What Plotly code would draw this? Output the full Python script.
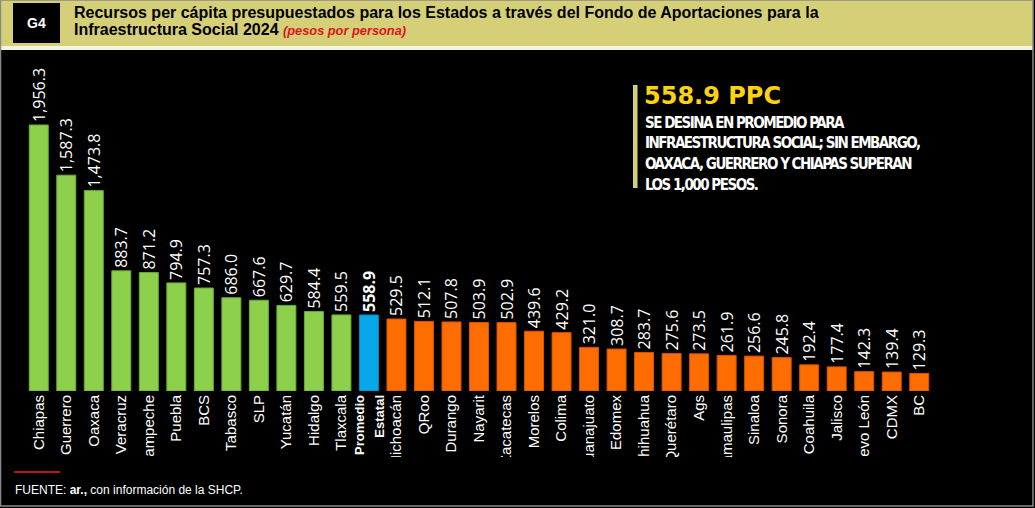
import plotly.graph_objects as go

categories = ["Chiapas", "Guerrero", "Oaxaca", "Veracruz", "Campeche", "Puebla", "BCS",
              "Tabasco", "SLP", "Yucatán", "Hidalgo", "Tlaxcala", "Promedio Estatal",
              "Michoacán", "QRoo", "Durango", "Nayarit", "Zacatecas", "Morelos", "Colima",
              "Guanajuato", "Edomex", "Chihuahua", "Querétaro", "Ags", "Tamaulipas",
              "Sinaloa", "Sonora", "Coahuila", "Jalisco", "Nuevo León", "CDMX", "BC"]
values = [1956.3, 1587.3, 1473.8, 883.7, 871.2, 794.9, 757.3, 686.0, 667.6, 629.7, 584.4,
          559.5, 558.9, 529.5, 512.1, 507.8, 503.9, 502.9, 439.6, 429.2, 321.0, 308.7,
          283.7, 275.6, 273.5, 261.9, 256.6, 245.8, 192.4, 177.4, 142.3, 139.4, 129.3]
average_value = 558.9

GREEN, BLUE, ORANGE = "#8dd04b", "#07a8ea", "#ff6c00"
GREEN_E, BLUE_E, ORANGE_E = "#6fa83a", "#0787c0", "#d95500"

colors, edges, texts, ticktext = [], [], [], []
for c, v in zip(categories, values):
    if c == "Promedio Estatal":
        colors.append(BLUE); edges.append(BLUE_E)
        texts.append(f"<b>{v:,.1f}</b>")
        ticktext.append("<b><span style='font-size:13px'>Promedio<br>Estatal</span></b>")
    elif v > average_value:
        colors.append(GREEN); edges.append(GREEN_E)
        texts.append(f"{v:,.1f}"); ticktext.append(c)
    else:
        colors.append(ORANGE); edges.append(ORANGE_E)
        texts.append(f"{v:,.1f}"); ticktext.append(c)

W, H = 1035, 508
L, R, T, B = 25, 102, 64, 117
PW, PH = W - L - R, H - T - B


def px(x):
    return (x - L) / PW


def py(y):
    return (H - B - y) / PH


COND = "Noto Sans ExtraCondensed, Noto Sans Condensed, DejaVu Sans Condensed, Noto Sans"

fig = go.Figure()
fig.add_trace(go.Bar(
    x=categories, y=values,
    marker=dict(color=colors, line=dict(color=edges, width=1)),
    text=texts, textposition="outside", textangle=-90,
    outsidetextfont=dict(family="Open Sans", size=16, color="white"),
    constraintext="none", cliponaxis=False, hoverinfo="skip",
))

shapes = [
    dict(type="rect", xref="paper", yref="paper", x0=px(0), x1=px(1033), y0=py(0), y1=py(46),
         fillcolor="#d5cf77", line=dict(width=0), layer="below"),
    dict(type="rect", xref="paper", yref="paper", x0=px(0), x1=px(1033), y0=py(46), y1=py(50),
         fillcolor="#f6f4dc", line=dict(width=0), layer="below"),
    dict(type="rect", xref="paper", yref="paper", x0=px(13), x1=px(60), y0=py(3), y1=py(43),
         fillcolor="black", line=dict(width=0), layer="below"),
    dict(type="rect", xref="paper", yref="paper", x0=px(633), x1=px(637.5), y0=py(85), y1=py(188),
         fillcolor="#d5cf77", line=dict(width=0), layer="below"),
    dict(type="rect", xref="paper", yref="paper", x0=px(1), x1=px(1032), y0=py(457), y1=py(505),
         fillcolor="black", line=dict(width=0), layer="above"),
    dict(type="line", xref="paper", yref="paper", x0=px(14), x1=px(60), y0=py(472), y1=py(472),
         line=dict(color="#b3191c", width=2), layer="above"),
    dict(type="rect", xref="paper", yref="paper", x0=px(0.5), x1=px(1033), y0=py(0), y1=py(506),
         fillcolor="rgba(0,0,0,0)", line=dict(color="#8a8a8a", width=1.5), layer="above"),
]

annotations = [
    dict(text="<b>G4</b>", x=px(36.5), y=py(23), xref="paper", yref="paper", showarrow=False,
         xanchor="center", yanchor="middle",
         font=dict(family="Liberation Sans", size=14, color="white")),
    dict(text="<b>Recursos per cápita presupuestados para los Estados a través del Fondo de Aportaciones para la</b>",
         x=px(72), y=py(12.5), xref="paper", yref="paper", showarrow=False,
         xanchor="left", yanchor="middle",
         font=dict(family="Liberation Sans", size=16, color="black")),
    dict(text="<b>Infraestructura Social 2024</b> <b><i><span style='font-size:12.8px;color:#e0141b'>(pesos por persona)</span></i></b>",
         x=px(72), y=py(29.5), xref="paper", yref="paper", showarrow=False,
         xanchor="left", yanchor="middle",
         font=dict(family="Liberation Sans", size=16, color="black")),
    dict(text="<b>558.9 PPC</b>", x=px(642), y=py(96), xref="paper", yref="paper", showarrow=False,
         xanchor="left", yanchor="middle",
         font=dict(family="DejaVu Sans", size=24, color="#fdd20e")),
]
body = ["SE DESINA EN PROMEDIO PARA",
        "INFRAESTRUCTURA SOCIAL; SIN EMBARGO,",
        "OAXACA, GUERRERO Y CHIAPAS SUPERAN",
        "LOS 1,000 PESOS."]
for i, line in enumerate(body):
    annotations.append(dict(
        text=f"<span style='font-stretch:extra-condensed;letter-spacing:-1.5px'>{line}</span>",
        x=px(643), y=py(122.5 + 20.8 * i), xref="paper", yref="paper",
        showarrow=False, xanchor="left", yanchor="middle",
        font=dict(family=COND, size=15, color="white", weight="bold")))
annotations.append(dict(
    text="FUENTE: <b>ar.,</b> con información de la SHCP.", x=px(13), y=py(490),
    xref="paper", yref="paper", showarrow=False, xanchor="left", yanchor="middle",
    font=dict(family="Liberation Sans", size=12, color="white")))

fig.update_layout(
    width=W, height=H, margin=dict(l=L, r=R, t=T, b=B, autoexpand=False),
    paper_bgcolor="black", plot_bgcolor="black",
    bargap=0.31, showlegend=False,
    shapes=shapes, annotations=annotations,
    xaxis=dict(type="category", range=[-0.5, len(categories) - 0.5],
               tickmode="array", tickvals=categories, ticktext=ticktext,
               tickangle=-90, tickfont=dict(family="Liberation Sans", size=15, color="white"),
               showgrid=False, zeroline=False, showline=False, ticks="", automargin=False),
    yaxis=dict(range=[0, PH / (266 / 1956.3)], visible=False, showgrid=False, zeroline=False),
)

fig.write_html("out.html", config={"displayModeBar": False},
               post_script="document.body.style.margin='0';document.body.style.overflow='hidden';")
